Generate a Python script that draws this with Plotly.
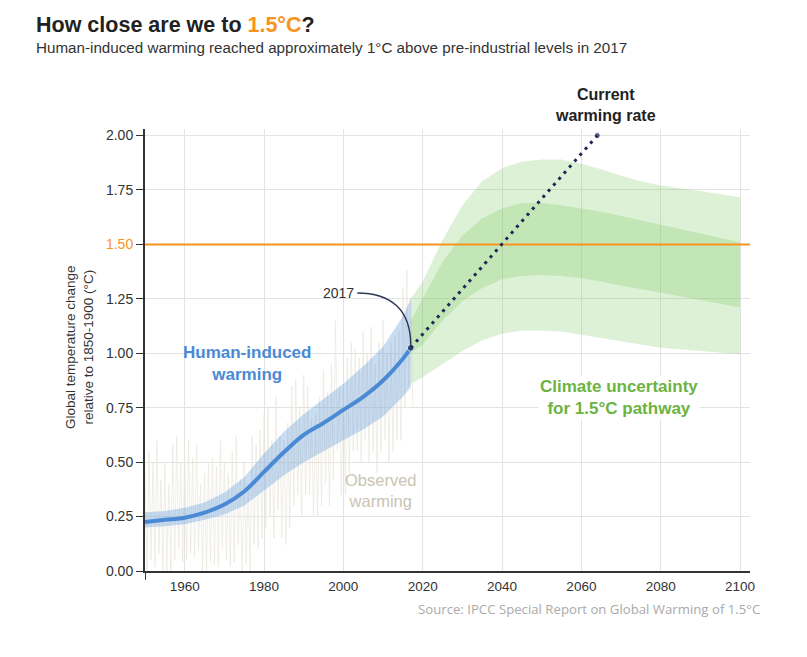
import plotly.graph_objects as go

# ---------------- data ----------------
hist_years = [1950, 1955, 1960, 1965, 1970, 1975, 1980, 1985, 1990, 1995, 2000, 2005, 2010, 2015, 2017]
hist_mid   = [0.225, 0.235, 0.245, 0.268, 0.305, 0.365, 0.455, 0.545, 0.625, 0.68, 0.74, 0.80, 0.875, 0.975, 1.025]
hist_low   = [0.20, 0.205, 0.215, 0.235, 0.26, 0.30, 0.37, 0.44, 0.50, 0.55, 0.60, 0.65, 0.71, 0.80, 0.845]
hist_high  = [0.27, 0.275, 0.29, 0.315, 0.36, 0.43, 0.54, 0.64, 0.72, 0.79, 0.86, 0.94, 1.03, 1.17, 1.25]

fut_years   = [2017, 2020, 2025, 2030, 2035, 2040, 2045, 2050, 2055, 2060, 2065, 2070, 2075, 2080, 2090, 2100]
outer_high  = [1.25, 1.33, 1.52, 1.68, 1.79, 1.85, 1.88, 1.89, 1.89, 1.87, 1.845, 1.815, 1.79, 1.77, 1.745, 1.715]
outer_low   = [0.86, 0.89, 0.95, 1.01, 1.06, 1.09, 1.105, 1.105, 1.10, 1.085, 1.07, 1.055, 1.04, 1.025, 1.01, 0.995]
inner_high  = [1.15, 1.25, 1.42, 1.54, 1.62, 1.665, 1.69, 1.69, 1.68, 1.665, 1.65, 1.63, 1.61, 1.59, 1.55, 1.51]
inner_low   = [1.00, 1.04, 1.15, 1.24, 1.30, 1.34, 1.355, 1.36, 1.355, 1.345, 1.33, 1.31, 1.295, 1.28, 1.245, 1.21]

obs_years = list(range(1950, 2018))
obs_high = [0.45, 0.55, 0.50, 0.60, 0.42, 0.50, 0.40, 0.58, 0.62, 0.50,
            0.55, 0.60, 0.52, 0.58, 0.40, 0.45, 0.50, 0.52, 0.48, 0.60,
            0.50, 0.45, 0.55, 0.62, 0.42, 0.50, 0.40, 0.62, 0.58, 0.65,
            0.72, 0.75, 0.60, 0.80, 0.62, 0.60, 0.68, 0.85, 0.88, 0.75,
            0.90, 0.85, 0.70, 0.72, 0.80, 0.92, 0.82, 0.95, 1.15, 0.85,
            0.85, 0.98, 1.05, 1.02, 0.98, 1.10, 1.00, 1.12, 0.95, 1.05,
            1.15, 1.00, 1.05, 1.08, 1.10, 1.30, 1.38, 1.25]
obs_low = [0.00, 0.05, 0.02, 0.08, 0.00, 0.00, 0.00, 0.05, 0.10, 0.04,
           0.05, 0.08, 0.06, 0.10, 0.00, 0.00, 0.04, 0.03, 0.02, 0.10,
           0.05, 0.02, 0.04, 0.12, 0.00, 0.03, 0.00, 0.12, 0.10, 0.15,
           0.20, 0.25, 0.15, 0.28, 0.15, 0.12, 0.20, 0.30, 0.35, 0.25,
           0.35, 0.35, 0.25, 0.25, 0.30, 0.40, 0.30, 0.42, 0.55, 0.35,
           0.35, 0.45, 0.55, 0.55, 0.50, 0.60, 0.50, 0.55, 0.45, 0.55,
           0.60, 0.50, 0.55, 0.60, 0.60, 0.75, 0.85, 0.75]

rate_years = [2017, 2064]
rate_vals  = [1.025, 2.00]

target = 1.5
x_ticks = [1960, 1980, 2000, 2020, 2040, 2060, 2080, 2100]
y_ticks = [0.0, 0.25, 0.5, 0.75, 1.0, 1.25, 1.5, 1.75, 2.0]
y_tick_text = ["0.00", "0.25", "0.50", "0.75", "1.00", "1.25",
               "<span style='color:#f7941d'>1.50</span>", "1.75", "2.00"]

# ---------------- styles ----------------
FONT = "Liberation Sans, Arial, sans-serif"
BLUE = "#4a8ad4"
GREEN_TXT = "#6cb33f"
ORANGE = "#f7941d"
NAVY = "#1c2857"

fig = go.Figure()

# observed warming (zig-zag between annual high and low)
ox, oy = [], []
for yr, hi, lo in zip(obs_years, obs_high, obs_low):
    ox += [yr, yr + 0.5]
    oy += [hi, lo]
fig.add_trace(go.Scatter(x=ox, y=oy, mode="lines",
                         line=dict(color="#e9e7dd", width=0.7),
                         hoverinfo="skip", showlegend=False))

# green uncertainty bands
fig.add_trace(go.Scatter(x=fut_years + fut_years[::-1], y=outer_high + outer_low[::-1],
                         fill="toself", fillcolor="rgba(120,200,90,0.25)",
                         line=dict(width=0), mode="lines", hoverinfo="skip", showlegend=False))
fig.add_trace(go.Scatter(x=fut_years + fut_years[::-1], y=inner_high + inner_low[::-1],
                         fill="toself", fillcolor="rgba(120,200,90,0.25)",
                         line=dict(width=0), mode="lines", hoverinfo="skip", showlegend=False))

# blue band
fig.add_trace(go.Scatter(x=hist_years + hist_years[::-1], y=hist_high + hist_low[::-1],
                         fill="toself", fillcolor="rgba(74,138,212,0.30)",
                         line=dict(width=0), mode="lines", hoverinfo="skip", showlegend=False))

# 1.5 line
fig.add_trace(go.Scatter(x=[1950, 2102.5], y=[target, target], mode="lines",
                         line=dict(color=ORANGE, width=2), hoverinfo="skip", showlegend=False))

# human-induced line
fig.add_trace(go.Scatter(x=hist_years, y=hist_mid, mode="lines",
                         line=dict(color=BLUE, width=4, shape="spline"),
                         hoverinfo="skip", showlegend=False))

# current warming rate
fig.add_trace(go.Scatter(x=rate_years, y=rate_vals, mode="lines",
                         line=dict(color=NAVY, width=3, dash="3px,5px"),
                         hoverinfo="skip", showlegend=False))
fig.add_trace(go.Scatter(x=[rate_years[0], rate_years[1]], y=[rate_vals[0], rate_vals[1]],
                         mode="markers", marker=dict(color=NAVY, size=[7, 6]),
                         hoverinfo="skip", showlegend=False))

# 2017 curved pointer
fig.add_shape(type="path", xref="x", yref="y",
              path=f"M 2003.5,1.277 C 2012,1.277 {rate_years[0]},1.20 {rate_years[0]},{rate_vals[0] + 0.01}",
              line=dict(color="#2e3a55", width=1.5))

# y axis line extension below x axis
fig.add_shape(type="line", xref="x", yref="paper", x0=1950, x1=1950, y0=0, y1=-0.02,
              line=dict(color="#333333", width=2))

# ---------------- layout ----------------
OFF = 8  # page body margin
W, H = 799, 649
L, R, T, B = 137, 57, 121, 86
PW, PH = W - L - R, H - T - B


def px(x):
    return (x - OFF - L) / PW


def py(y):
    return (OFF + H - B - y) / PH


annots = [
    dict(text="<b>How close are we to <span style='color:#f7941d'>1.5°C</span>?</b>",
         x=px(34), y=py(25), xref="paper", yref="paper", xanchor="left", yanchor="middle",
         showarrow=False, font=dict(size=21.5, color="#222222", family=FONT)),
    dict(text="Human-induced warming reached approximately 1°C above pre-industrial levels in 2017",
         x=px(34), y=py(47), xref="paper", yref="paper", xanchor="left", yanchor="middle",
         showarrow=False, font=dict(size=15.2, color="#333333", family=FONT)),
    dict(text="<b>Current<br>warming rate</b>", x=px(605), y=py(105), xref="paper", yref="paper",
         xanchor="center", yanchor="middle", showarrow=False,
         font=dict(size=16, color="#222222", family=FONT)),
    dict(text="Global temperature change<br>relative to 1850-1900 (°C)", x=px(79), y=py(347),
         xref="paper", yref="paper", xanchor="center", yanchor="middle", textangle=-90,
         showarrow=False, font=dict(size=13.5, color="#333333", family=FONT)),
    dict(text="<b>Human-induced<br>warming</b>", x=1975.7, y=0.955, xref="x", yref="y",
         xanchor="center", yanchor="middle", showarrow=False,
         font=dict(size=17, color=BLUE, family=FONT)),
    dict(text="<b>Climate uncertainty<br>for 1.5°C pathway</b>", x=2069.5, y=0.795, xref="x", yref="y",
         xanchor="center", yanchor="middle", showarrow=False, bgcolor="white",
         font=dict(size=17, color=GREEN_TXT, family=FONT)),
    dict(text="Observed<br>warming", x=2009.5, y=0.37, xref="x", yref="y",
         xanchor="center", yanchor="middle", showarrow=False,
         font=dict(size=16.5, color="#c9c5b3", family=FONT)),
    dict(text="2017", x=2003.2, y=1.277, xref="x", yref="y",
         xanchor="right", yanchor="middle", showarrow=False,
         font=dict(size=14, color="#333333", family=FONT)),
    dict(text="Source: IPCC Special Report on Global Warming of 1.5°C", x=px(762), y=py(609),
         xref="paper", yref="paper", xanchor="right", yanchor="middle", showarrow=False,
         font=dict(size=13.2, color="#aaaaaa", family="Open Sans, sans-serif")),
]

fig.update_layout(
    width=W, height=H,
    margin=dict(l=L, r=R, t=T, b=B, autoexpand=False),
    paper_bgcolor="white", plot_bgcolor="white",
    showlegend=False,
    annotations=annots,
    font=dict(family=FONT, color="#333333"),
)
fig.update_xaxes(range=[1950, 2102.5], tickvals=x_ticks, showgrid=True,
                 gridcolor="#e3e3e3", gridwidth=1, zeroline=False,
                 showline=True, linecolor="#333333", linewidth=2,
                 ticks="outside", ticklen=2, tickcolor="rgba(0,0,0,0)",
                 tickfont=dict(size=13.5, color="#333333", family=FONT))
fig.update_yaxes(range=[0, 2.03], tickvals=y_ticks, ticktext=y_tick_text, showgrid=True,
                 gridcolor="#e3e3e3", gridwidth=1, zeroline=False,
                 showline=True, linecolor="#333333", linewidth=2,
                 ticks="outside", ticklen=7, tickcolor="#333333", tickwidth=1,
                 tickfont=dict(size=14, color="#333333", family=FONT))

fig.write_html("out.html")
